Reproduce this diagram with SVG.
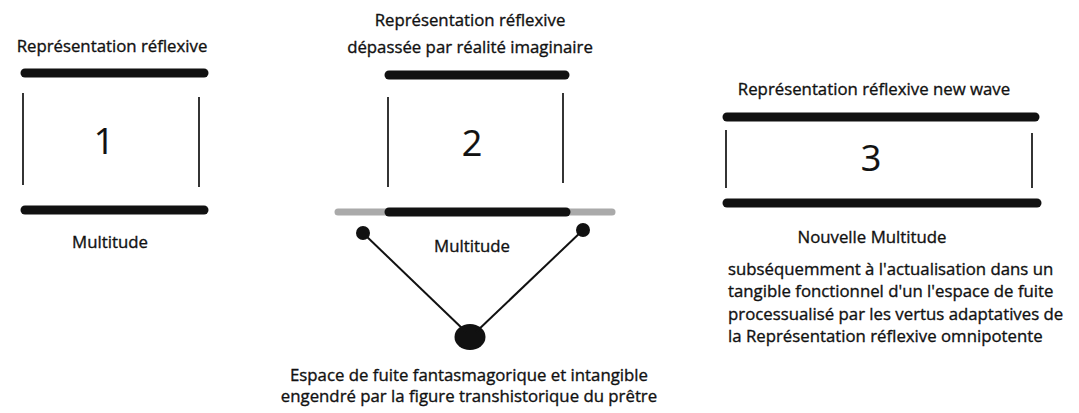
<svg xmlns="http://www.w3.org/2000/svg" width="1079" height="413" viewBox="0 0 1079 413">
<style>
text{font-family:"Open Sans","Liberation Sans",sans-serif;fill:#111;stroke:#111;stroke-width:0.35px;font-size:16.8px}
.num{font-size:36px;stroke-width:0.2px}
.bar{stroke:#111;stroke-width:9;stroke-linecap:round}
.side{stroke:#111;stroke-width:1.7}
.edge{stroke:#111;stroke-width:2}
</style>
<rect width="1079" height="413" fill="#fff"/>
<g id="node1">
<text x="112" y="52" text-anchor="middle">Représentation réflexive</text>
<line class="bar" x1="25" y1="73" x2="204" y2="73"/>
<line class="side" x1="23" y1="93" x2="23" y2="185"/>
<line class="side" x1="199" y1="97" x2="199" y2="187"/>
<text class="num" x="104" y="154" text-anchor="middle">1</text>
<line class="bar" x1="25" y1="210" x2="204" y2="210"/>
<text x="110" y="248" text-anchor="middle">Multitude</text>
</g>
<g id="node2">
<text x="470" y="26" text-anchor="middle">Représentation réflexive</text>
<text x="470" y="53" text-anchor="middle">dépassée par réalité imaginaire</text>
<line class="bar" x1="389" y1="75" x2="565" y2="75"/>
<line class="side" x1="388" y1="97" x2="388" y2="187"/>
<line class="side" x1="563" y1="93" x2="563" y2="183"/>
<text class="num" x="472" y="156" text-anchor="middle">2</text>
<line x1="338" y1="212" x2="612" y2="212" stroke="#aaa" stroke-width="7" stroke-linecap="round"/>
<line x1="389" y1="212" x2="566" y2="212" stroke="#111" stroke-width="9" stroke-linecap="round"/>
<text x="472" y="252" text-anchor="middle">Multitude</text>
</g>
<g id="node3">
<text x="874" y="95" text-anchor="middle">Représentation réflexive new wave</text>
<line class="bar" x1="727" y1="117" x2="1035" y2="117"/>
<line class="side" x1="726" y1="130" x2="726" y2="188"/>
<line class="side" x1="1032" y1="133" x2="1032" y2="188"/>
<text class="num" x="871" y="171" text-anchor="middle">3</text>
<line class="bar" x1="727" y1="203" x2="1037" y2="203"/>
<text x="872" y="243" text-anchor="middle">Nouvelle Multitude</text>
<text x="728" y="275">subséquemment à l'actualisation dans un</text>
<text x="728" y="297">tangible fonctionnel d'un l'espace de fuite</text>
<text x="728" y="320">processualisé par les vertus adaptatives de</text>
<text x="728" y="342">la Représentation réflexive omnipotente</text>
</g>
<g id="dotLeft"><circle cx="363" cy="233" r="7" fill="#111"/></g>
<g id="dotRight"><circle cx="583" cy="230" r="7" fill="#111"/></g>
<g id="dotBottom">
<ellipse cx="470" cy="337" rx="15.5" ry="13" fill="#111"/>
<text x="469" y="381" text-anchor="middle">Espace de fuite fantasmagorique et intangible</text>
<text x="469" y="402" text-anchor="middle">engendré par la figure transhistorique du prêtre</text>
</g>
<g id="connectors">
<line class="edge" x1="363" y1="233" x2="466" y2="332"/>
<line class="edge" x1="583" y1="230" x2="476" y2="332"/>
</g>
</svg>
